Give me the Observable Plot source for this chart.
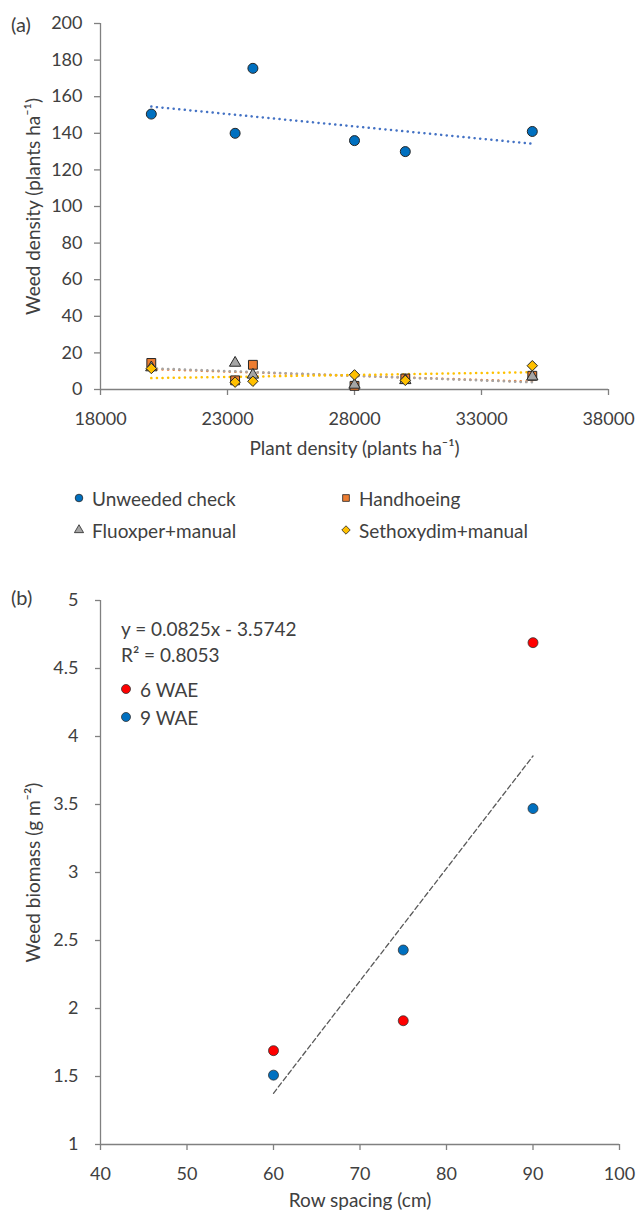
<!DOCTYPE html>
<html><head><meta charset="utf-8">
<script src="https://cdn.jsdelivr.net/npm/d3@7"></script>
<script src="https://cdn.jsdelivr.net/npm/@observablehq/plot@0.6"></script>
<style>
body{margin:0;background:#fff;}
#wrap{position:relative;width:640px;height:1212px;font-family:Lato,sans-serif;color:#404040;overflow:hidden;}
.lg{position:absolute;white-space:nowrap;font-size:19px;line-height:1;transform:translateY(-50%);}
svg.mk{position:absolute;overflow:visible;}
</style></head><body><div id="wrap"></div>
<script>
// ---- Panel (a) data ----
const plantDensity = [20000, 23300, 24000, 28000, 30000, 35000];
const unweededCheck = [150.5, 140, 175.5, 136, 130, 141];
const handhoeing = [14.5, 5, 13.5, 2, 6, 7.5];
const fluoxperManual = [12, 14.5, 8, 2.5, 5, 7];
const sethoxydimManual = [11.5, 4, 4.5, 8, 5, 13];
const seriesA = ["Unweeded check", "Handhoeing", "Fluoxper+manual", "Sethoxydim+manual"];
const xTicksA = [18000, 23000, 28000, 33000, 38000];
const yTicksA = [0, 20, 40, 60, 80, 100, 120, 140, 160, 180, 200];

// ---- Panel (b) data ----
const rowSpacing = [60, 75, 90];
const wae6 = [1.69, 1.91, 4.69];
const wae9 = [1.51, 2.43, 3.47];
const seriesB = ["6 WAE", "9 WAE"];
const xTicksB = [40, 50, 60, 70, 80, 90, 100];
const yTicksB = [1, 1.5, 2, 2.5, 3, 3.5, 4, 4.5, 5];
const equationText = "y = 0.0825x - 3.5742";
const r2Text = "R² = 0.8053";

// ---- styles ----
const fillsA = ["#0070C0", "#ED7D31", "#A5A5A5", "#FFC000"];
const trendA = ["#4472C4", "#ED7D31", "#A5A5A5", "#FFC000"];
const symbolsA = ["circle", "square", "triangle", "diamond2"];
const symbolR = [5, 5, 4.2, 4.7];
const fillsB = ["#FF0000", "#0070C0"];
const axisColor = "#808080";
const textColor = "#404040";

const valuesA = [unweededCheck, handhoeing, fluoxperManual, sethoxydimManual];
const tableA = seriesA.flatMap((s, i) => plantDensity.map((d, j) => ({series: s, x: d, y: valuesA[i][j]})));
const valuesB = [wae6, wae9];
const tableB = seriesB.flatMap((s, i) => rowSpacing.map((d, j) => ({series: s, x: d, y: valuesB[i][j]})));

const wrap = document.getElementById("wrap");
function place(el, top) {
  const d = document.createElement("div");
  d.style.position = "absolute"; d.style.left = "0px"; d.style.top = top + "px";
  d.appendChild(el); wrap.appendChild(d);
}
const baseStyle = {fontFamily: "Lato, sans-serif", fontSize: "18px", color: textColor, background: "transparent", overflow: "visible"};

const chartA = Plot.plot({
  width: 640, height: 470, marginTop: 23, marginRight: 32, marginBottom: 81, marginLeft: 100,
  style: baseStyle,
  x: {domain: [18000, 38000]},
  y: {domain: [0, 200]},
  color: {domain: seriesA, range: fillsA},
  symbol: {domain: seriesA, range: symbolsA},
  marks: [
    Plot.ruleX([18000], {stroke: axisColor, strokeWidth: 1.3}),
    Plot.ruleY([0], {stroke: axisColor, strokeWidth: 1.3}),
    Plot.axisX({ticks: xTicksA, tickFormat: d => String(d), tickSize: 6, tickPadding: 17, label: null, stroke: axisColor, strokeWidth: 1.3}),
    Plot.axisY({ticks: yTicksA, tickFormat: d => String(d), tickSize: 6, tickPadding: 12, label: null, stroke: axisColor, strokeWidth: 1.3}),
    ...seriesA.map((s, i) => Plot.linearRegressionY(tableA.filter(d => d.series === s), {
      x: "x", y: "y", ci: 0, stroke: trendA[i], strokeWidth: 2.5, strokeDasharray: "0.1,5.5", strokeLinecap: "round"
    })),
    ...seriesA.map((s, i) => Plot.dot(tableA.filter(d => d.series === s), {
      x: "x", y: "y", fill: "series", symbol: "series", r: symbolR[i], stroke: "#262626", strokeWidth: 1
    })),
    Plot.text(["Plant density (plants ha⁻¹)"], {frameAnchor: "bottom", textAnchor: "middle", lineAnchor: "middle", dy: 59, fontSize: 19}),
    Plot.text(["Weed density (plants ha⁻¹)"], {frameAnchor: "left", textAnchor: "middle", lineAnchor: "middle", rotate: -90, dx: -67, fontSize: 19})
  ]
});
place(chartA, 0);

const chartB = Plot.plot({
  width: 640, height: 652, marginTop: 40, marginRight: 21, marginBottom: 68, marginLeft: 100,
  style: baseStyle,
  x: {domain: [40, 100]},
  y: {domain: [1, 5]},
  color: {domain: seriesB, range: fillsB},
  marks: [
    Plot.ruleX([40], {stroke: axisColor, strokeWidth: 1.3}),
    Plot.ruleY([1], {stroke: axisColor, strokeWidth: 1.3}),
    Plot.axisX({ticks: xTicksB, tickFormat: d => String(d), tickSize: 6, tickPadding: 17, label: null, stroke: axisColor, strokeWidth: 1.3}),
    Plot.axisY({ticks: yTicksB, tickFormat: d => String(d), tickSize: 5, tickPadding: 17, label: null, stroke: axisColor, strokeWidth: 1.3}),
    Plot.linearRegressionY(tableB, {x: "x", y: "y", ci: 0, stroke: "#595959", strokeWidth: 1.3, strokeDasharray: "5,3"}),
    Plot.dot(tableB, {x: "x", y: "y", fill: "series", r: 5, stroke: "#333", strokeWidth: 0.8}),
    Plot.text(["Row spacing (cm)"], {frameAnchor: "bottom", textAnchor: "middle", lineAnchor: "middle", dy: 56, fontSize: 19}),
    Plot.text(["Weed biomass (g m⁻²)"], {frameAnchor: "left", textAnchor: "middle", lineAnchor: "middle", rotate: -90, dx: -67, fontSize: 19})
  ]
});
place(chartB, 560);

// panel letters and free texts
function label(txt, x, y, size) {
  const d = document.createElement("div");
  d.className = "lg"; d.textContent = txt; d.style.left = x + "px"; d.style.top = y + "px";
  if (size) d.style.fontSize = size + "px";
  wrap.appendChild(d); return d;
}
label("(a)", 11, 24, 20);
label("(b)", 11, 597, 20);

// legend swatches
const NS = "http://www.w3.org/2000/svg";
function swatch(sym, fill, cx, cy, r, stroke) {
  const s = document.createElementNS(NS, "svg");
  s.setAttribute("class", "mk"); s.setAttribute("width", 12); s.setAttribute("height", 12);
  s.style.left = (cx - 6) + "px"; s.style.top = (cy - 6) + "px";
  const p = document.createElementNS(NS, "path");
  const t = {circle: d3.symbolCircle, square: d3.symbolSquare, triangle: d3.symbolTriangle, diamond2: d3.symbolDiamond2}[sym];
  p.setAttribute("d", d3.symbol(t, Math.PI * r * r)());
  p.setAttribute("transform", "translate(6,6)");
  p.setAttribute("fill", fill); p.setAttribute("stroke", stroke || "#262626"); p.setAttribute("stroke-width", 0.8);
  s.appendChild(p); wrap.appendChild(s);
}
const legPos = [[79, 498], [346, 498], [79, 530], [346, 530]];
seriesA.forEach((s, i) => {
  const [x, y] = legPos[i];
  swatch(symbolsA[i], fillsA[i], x, y, symbolsA[i] === "triangle" ? 3.4 : 3.8);
  label(s, x + 13, y);
});

// panel (b) annotation + legend
label(equationText, 121, 628);
label(r2Text, 121, 654);
seriesB.forEach((s, i) => {
  const y = 689 + i * 28;
  swatch("circle", fillsB[i], 126, y, 4.5, "#333");
  label(s, 140, y);
});
</script></body></html>
